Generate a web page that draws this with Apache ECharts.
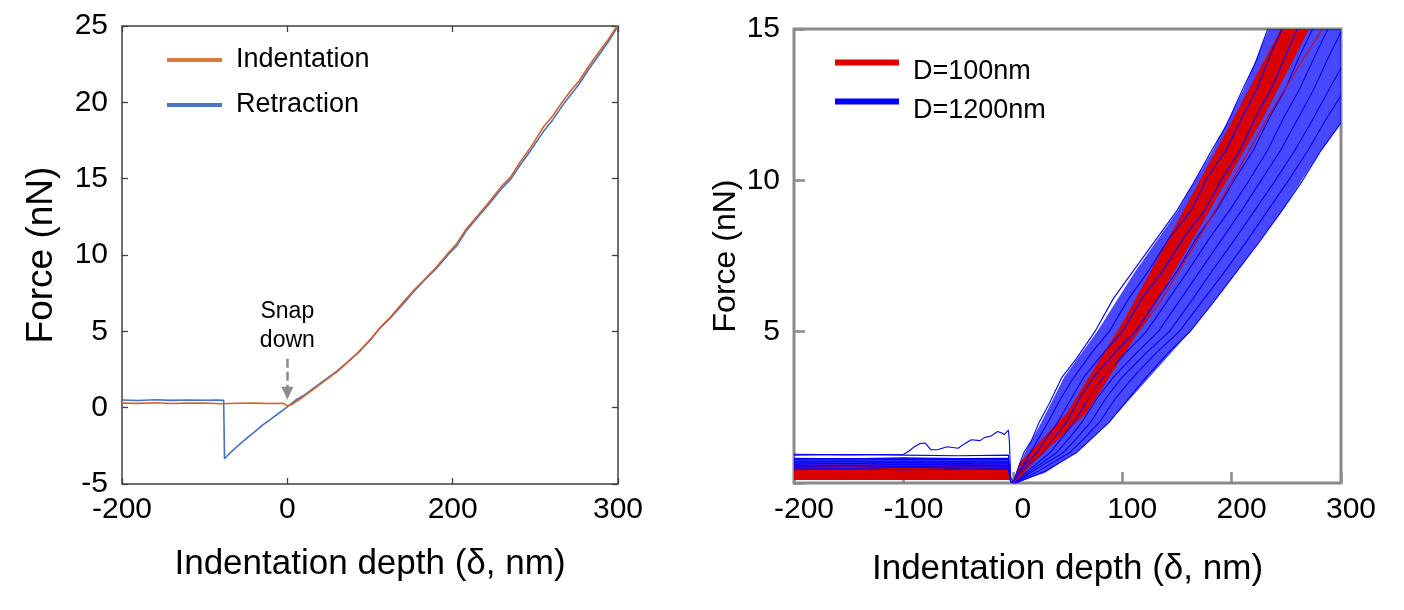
<!DOCTYPE html>
<html>
<head>
<meta charset="utf-8">
<title>Force vs indentation depth</title>
<script src="https://cdn.jsdelivr.net/npm/echarts@6/dist/echarts.min.js"></script>
<style>
  html, body { margin: 0; padding: 0; background: #fff; }
  #chart { width: 1404px; height: 610px; }
</style>
</head>
<body>
<div id="chart"></div>
<script>
// Left panel: one indentation / retraction cycle  [depth nm, force nN]
const indentation = [
  [-200, 0.3], [-180, 0.28], [-160, 0.32], [-140, 0.27], [-120, 0.3], [-100, 0.31],
  [-80, 0.26], [-60, 0.29], [-40, 0.3], [-20, 0.27], [-5, 0.28], [0, 0.12],
  [5, 0.2], [15, 0.55], [31, 1.18], [45, 1.75], [60, 2.35], [72, 2.93], [85, 3.6],
  [100, 4.45], [112, 5.23], [125, 5.95], [140, 6.9], [152, 7.63], [165, 8.35],
  [180, 9.2], [195, 10.15], [205, 10.75], [216, 11.68], [230, 12.55], [245, 13.54],
  [260, 14.55], [270, 15.1], [281, 16.05], [295, 17.1], [310, 18.4], [321, 19.1],
  [335, 20.2], [345, 20.9], [353, 21.4], [365, 22.4], [377, 23.3], [388, 24.1], [399, 25.0]
];
const retraction = [
  [-200, 0.5], [-180, 0.47], [-160, 0.52], [-140, 0.48], [-120, 0.5], [-100, 0.49],
  [-85, 0.5], [-77, 0.48], [-76, -3.35], [-70, -3.0], [-60, -2.5], [-50, -2.05],
  [-40, -1.6], [-30, -1.15], [-20, -0.75], [-10, -0.35], [0, 0.05], [10, 0.5],
  [20, 0.8], [31, 1.25], [45, 1.8], [60, 2.4], [72, 2.95], [85, 3.55], [100, 4.4],
  [112, 5.2], [125, 5.9], [140, 6.8], [152, 7.55], [165, 8.3], [180, 9.1], [195, 10.05],
  [205, 10.6], [216, 11.55], [230, 12.45], [245, 13.4], [260, 14.4], [270, 14.95],
  [281, 15.85], [295, 16.9], [310, 18.1], [321, 18.85], [335, 19.95], [345, 20.65],
  [353, 21.2], [365, 22.2], [377, 23.1], [388, 23.95], [399, 24.9]
];
const snapArrow = [[0, 3.2], [0, 0.95]];
// left panel x ticks; the right end is printed as "300" in the figure
const leftXTicks = [-200, 0, 200, 400];
const leftXLabels = ["-200", "0", "200", "300"];

// Right panel: bundles of curves for the two tip diameters
const redFlatBand = [[-200, 0.1], [-2, 0.1], [-2, 0.6], [-200, 0.6]];
const redSlopeBand = [
  [0, 0], [6, 0.66], [49, 2.3], [102, 5.4], [150, 8.6], [201, 12], [245, 15],
  [271, 15], [228, 12], [175, 8.7], [122, 5.4], [67, 2.3], [18, 0.66], [3, 0]
];
const redLine = [[0, 0], [30, 1.1], [80, 3.3], [135, 6.0], [185, 9.0], [235, 12.2], [262, 13.8], [283, 15]];

const blueFlatBand = [[-200, 0.42], [-4, 0.42], [-4, 0.83], [-200, 0.83]];
const blueSlopeBand = [
  [0, 0], [11, 1], [26, 2], [47, 3.5], [77, 5], [112, 7], [151, 9], [183, 11], [211, 13], [234, 15],
  [300, 15], [300, 11.9], [282, 11], [246, 9], [205, 7], [162, 5], [125, 3.5], [88, 2], [58, 1], [30, 0.35], [3, 0]
];
const blueCurves = [
  [[-200, 0.92], [-150, 0.94], [-100, 0.92], [-50, 0.9], [-4, 0.92], [-2, 0.05],
   [0, 0], [5, 0.5], [10, 1], [17, 1.4], [24, 2], [33, 2.6], [45, 3.5], [58, 4.1], [75, 5], [92, 6.1],
   [110, 7], [128, 7.9], [150, 9], [165, 9.9], [182, 11], [195, 11.8], [210, 13], [222, 13.9], [233, 15]],
  [[-200, 0.5], [-150, 0.48], [-100, 0.52], [-50, 0.5], [-4, 0.49], [-2, 0.05],
   [0, 0], [8, 0.5], [16, 1], [24, 1.5], [32, 2], [44, 2.8], [56, 3.5], [72, 4.3], [88, 5], [106, 6.1],
   [124, 7], [143, 8.1], [163, 9], [178, 10.1], [195, 11], [210, 12.1], [223, 13], [236, 14.2], [246, 15]],
  [[-200, 0.7], [-150, 0.72], [-100, 0.69], [-50, 0.71], [-4, 0.7], [-2, 0.05],
   [0, 0], [11, 0.6], [22, 1], [31, 1.5], [41, 2], [52, 2.7], [65, 3.5], [83, 4.3], [100, 5], [118, 6.1],
   [137, 7], [156, 8.1], [175, 9], [192, 10.1], [208, 11], [222, 12.1], [236, 13], [249, 14.1], [260, 15]],
  [[-200, 0.6], [-150, 0.58], [-100, 0.61], [-50, 0.6], [-4, 0.59], [-2, 0.05],
   [1, 0], [14, 0.6], [28, 1], [38, 1.5], [49, 2], [61, 2.8], [74, 3.5], [93, 4.3], [112, 5], [131, 6],
   [150, 7], [168, 8.1], [186, 9], [204, 10.1], [220, 11], [235, 12.1], [249, 13], [262, 14.1], [274, 15]],
  [[-200, 0.78], [-150, 0.8], [-100, 0.77], [-50, 0.79], [-4, 0.78], [-2, 0.05],
   [1, 0], [17, 0.5], [34, 1], [45, 1.5], [56, 2], [69, 2.8], [83, 3.5], [103, 4.3], [122, 5], [141, 6],
   [160, 7], [180, 8.1], [198, 9], [216, 10], [233, 11], [248, 12.1], [262, 13], [276, 14.1], [288, 15]],
  [[-200, 0.45], [-150, 0.47], [-100, 0.44], [-50, 0.46], [-4, 0.45], [-2, 0.05],
   [2, 0], [20, 0.5], [40, 1], [52, 1.5], [63, 2], [77, 2.8], [92, 3.5], [113, 4.3], [133, 5], [152, 6],
   [171, 7], [190, 8], [209, 9], [227, 10], [245, 11], [260, 12], [275, 13], [289, 14.1], [300, 14.9]],
  [[-200, 0.66], [-150, 0.64], [-100, 0.67], [-50, 0.65], [-4, 0.66], [-2, 0.05],
   [2, 0], [23, 0.5], [46, 1], [59, 1.5], [71, 2], [85, 2.8], [100, 3.5], [122, 4.3], [143, 5], [163, 6],
   [182, 7], [202, 8], [221, 9], [240, 10], [258, 11], [274, 12], [289, 13], [300, 13.7]],
  [[-200, 0.82], [-150, 0.8], [-100, 0.83], [-50, 0.81], [-4, 0.82], [-2, 0.05],
   [3, 0], [26, 0.45], [52, 1], [66, 1.5], [79, 2], [94, 2.8], [110, 3.5], [131, 4.3], [152, 5], [173, 6],
   [194, 7], [214, 8], [233, 9], [252, 10], [270, 11], [286, 12], [300, 12.8]],
  [[-200, 0.55], [-150, 0.57], [-100, 0.54], [-50, 0.56], [-4, 0.55], [-2, 0.05],
   [3, 0], [30, 0.4], [58, 1], [73, 1.5], [88, 2], [106, 2.8], [122, 3.5], [142, 4.3], [162, 5], [184, 6],
   [205, 7], [226, 8], [246, 9], [265, 10], [282, 11], [300, 11.9]],
  [[-200, 0.95], [-150, 0.93], [-100, 0.95], [-95, 1.05], [-90, 1.2], [-85, 1.3], [-80, 1.32],
   [-75, 1.1], [-69, 1.1], [-60, 1.2], [-50, 1.15], [-44, 1.3], [-38, 1.43], [-30, 1.4], [-26, 1.5],
   [-20, 1.55], [-14, 1.7], [-10, 1.65], [-8, 1.6], [-4, 1.75], [-3, 1.3], [-2, 0.2], [0, 0.05]]
];

(function () {
  "use strict";

  const FONT = "'Liberation Sans', Arial, sans-serif";
  const chart = echarts.init(document.getElementById("chart"), null, { renderer: "canvas" });

  function band(points, color, xIdx, yIdx) {
    return {
      type: "custom",
      xAxisIndex: xIdx,
      yAxisIndex: yIdx,
      silent: true,
      data: [[0, 0]],
      renderItem: function (params, api) {
        return {
          type: "polygon",
          shape: { points: points.map((p) => api.coord(p)) },
          style: { fill: color }
        };
      }
    };
  }

  function curve(name, data, color, width, xIdx, yIdx) {
    return {
      name: name,
      type: "line",
      xAxisIndex: xIdx,
      yAxisIndex: yIdx,
      data: data,
      showSymbol: false,
      silent: true,
      itemStyle: { color: color },
      lineStyle: { color: color, width: width }
    };
  }

  const noLine = { show: false, onZero: false };
  const leftTick = { show: true, inside: true, length: 6, lineStyle: { color: "#404040", width: 1.3 } };
  const rightTick = { show: true, inside: true, length: 11, lineStyle: { color: "#8a8a8a", width: 2.5 } };
  const label = { color: "#000", fontFamily: FONT, fontSize: 30 };
  const nameStyle = { color: "#000", fontFamily: FONT, fontSize: 35 };

  const series = [
    curve("Retraction", retraction, "#4472c4", 1.6, 0, 0),
    curve("Indentation", indentation, "#d4622c", 1.6, 0, 0)
  ];
  series[1].markLine = {
    silent: true,
    symbol: ["none", "triangle"],
    symbolSize: [12, 13],
    lineStyle: { color: "#8c8c8c", width: 2.5, type: [9, 4] },
    label: {
      show: true,
      position: "start",
      formatter: "Snap\ndown",
      color: "#000",
      fontFamily: FONT,
      fontSize: 23,
      lineHeight: 29,
      distance: 4
    },
    data: [[{ coord: snapArrow[0] }, { coord: snapArrow[1] }]]
  };

  series.push(band(blueFlatBand, "rgba(10,10,255,0.85)", 2, 2));
  series.push(band(blueSlopeBand, "rgba(20,20,255,0.78)", 2, 2));
  blueCurves.forEach((c) => series.push(curve("D=1200nm", c, "#0000ff", 1.1, 2, 2)));
  series.push(band(redFlatBand, "#d90000", 2, 2));
  series.push(band(redSlopeBand, "#d90000", 2, 2));
  series.push(curve("D=100nm", redLine, "#d90000", 1.1, 2, 2));

  chart.setOption({
    animation: false,
    textStyle: { fontFamily: FONT },
    grid: [
      { left: 122, top: 26, width: 496, height: 458, show: true, borderColor: "#404040", borderWidth: 1.5, backgroundColor: "transparent" },
      { left: 794, top: 29, width: 547, height: 454, show: true, borderColor: "#8a8a8a", borderWidth: 3, backgroundColor: "transparent" }
    ],
    legend: [
      {
        orient: "vertical",
        left: 167,
        top: 45,
        padding: 0,
        itemGap: 15,
        itemWidth: 55,
        itemHeight: 4,
        icon: "rect",
        selectedMode: false,
        textStyle: { color: "#000", fontFamily: FONT, fontSize: 27, lineHeight: 30, padding: [0, 0, 0, 9] },
        data: [
          { name: "Indentation", itemStyle: { color: "#dc7c3c" } },
          { name: "Retraction", itemStyle: { color: "#4a78c8" } }
        ]
      },
      {
        // text sits a little below its swatch in the figure
        orient: "vertical",
        left: 835,
        top: 40,
        padding: 0,
        itemGap: -6,
        itemWidth: 64,
        itemHeight: 6,
        icon: "rect",
        selectedMode: false,
        formatter: (name) => "\n" + name,
        textStyle: { color: "#000", fontFamily: FONT, fontSize: 27, lineHeight: 18, padding: [0, 0, 0, 9] },
        data: [
          { name: "D=100nm", itemStyle: { color: "#e00000" } },
          { name: "D=1200nm", itemStyle: { color: "#0000ff" } }
        ]
      }
    ],
    xAxis: [
      {
        type: "value", gridIndex: 0, min: -200, max: 400, interval: 200,
        axisLine: noLine, splitLine: { show: false }, axisTick: leftTick,
        axisLabel: Object.assign({}, label, {
          margin: 11,
          formatter: (v) => leftXLabels[leftXTicks.indexOf(v)]
        }),
        name: "Indentation depth (\u03b4, nm)", nameLocation: "middle", nameGap: 63, nameTextStyle: nameStyle
      },
      {
        type: "value", gridIndex: 0, position: "top", min: -200, max: 400, interval: 200,
        axisLine: noLine, splitLine: { show: false }, axisTick: leftTick, axisLabel: { show: false }
      },
      {
        type: "value", gridIndex: 1, min: -200, max: 300, interval: 100,
        axisLine: noLine, splitLine: { show: false }, axisTick: rightTick,
        axisLabel: Object.assign({}, label, { margin: 12, padding: [0, 0, 0, 20] }),
        name: "Indentation depth (\u03b4, nm)", nameLocation: "middle", nameGap: 69, nameTextStyle: nameStyle
      }
    ],
    yAxis: [
      {
        type: "value", gridIndex: 0, min: -5, max: 25, interval: 5,
        axisLine: noLine, splitLine: { show: false }, axisTick: leftTick,
        axisLabel: Object.assign({}, label, { margin: 14 }),
        name: "Force (nN)", nameLocation: "middle", nameGap: 62,
        nameTextStyle: Object.assign({}, nameStyle, { fontSize: 37 })
      },
      {
        type: "value", gridIndex: 0, position: "right", min: -5, max: 25, interval: 5,
        axisLine: noLine, splitLine: { show: false }, axisTick: leftTick, axisLabel: { show: false }
      },
      {
        type: "value", gridIndex: 1, min: 0, max: 15, interval: 5,
        axisLine: noLine, splitLine: { show: false }, axisTick: rightTick,
        axisLabel: Object.assign({}, label, { margin: 14, formatter: (v) => (v === 0 ? "" : String(v)) }),
        name: "Force (nN)", nameLocation: "middle", nameGap: 52,
        nameTextStyle: Object.assign({}, nameStyle, { fontSize: 32 })
      }
    ],
    series: series
  });
})();
</script>
</body>
</html>
